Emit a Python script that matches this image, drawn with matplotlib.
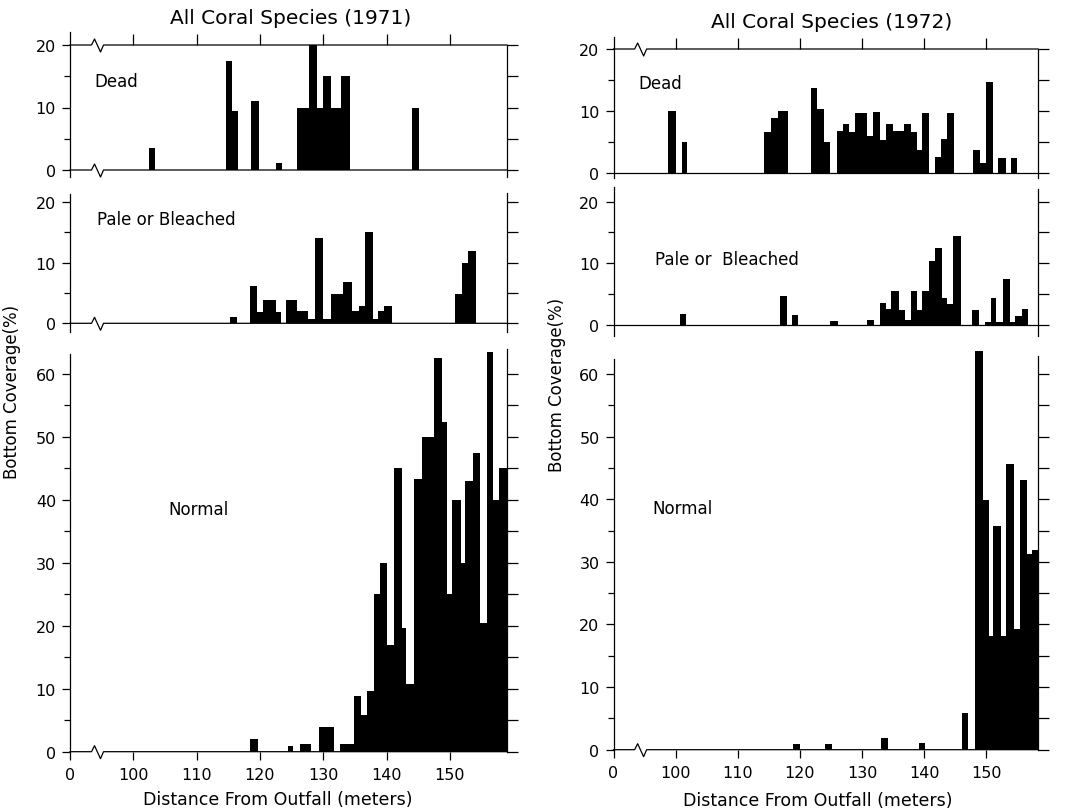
import numpy as np
import matplotlib.pyplot as plt
from matplotlib.markers import TICKRIGHT, TICKUP

plt.rcParams['font.family'] = ['DejaVu Sans']

# bars: (from m, to m, bottom coverage %)
dead_1971 = [
    (102.5, 103.4, 3.5), (114.7, 115.6, 17.5), (115.6, 116.6, 9.5),
    (118.6, 119.8, 11.0), (122.5, 123.5, 1.2), (125.8, 127.8, 10.0),
    (127.8, 129.0, 20.0), (129.0, 130.0, 10.0), (130.0, 131.3, 15.0),
    (131.3, 132.8, 10.0), (132.8, 134.2, 15.0), (144.0, 145.2, 10.0),
]
pale_1971 = [
    (115.2, 116.4, 1.0), (118.4, 119.6, 6.2), (119.6, 120.5, 1.9),
    (120.5, 122.5, 3.8), (122.5, 123.4, 1.9), (124.2, 125.8, 3.8),
    (125.8, 127.6, 2.0), (127.6, 128.7, 0.7), (128.7, 130.0, 14.0),
    (130.0, 131.2, 0.7), (131.2, 133.2, 4.8), (133.2, 134.5, 6.8),
    (134.5, 135.6, 2.0), (135.6, 136.6, 2.9), (136.6, 137.8, 15.0),
    (137.8, 138.7, 0.7), (138.7, 139.6, 2.0), (139.6, 140.8, 2.9),
    (150.8, 151.9, 4.8), (151.9, 152.9, 9.9), (152.9, 154.2, 11.9),
]
normal_1971 = [
    (118.5, 119.7, 2.0), (124.4, 125.3, 0.9), (126.3, 128.0, 1.3),
    (129.4, 131.7, 4.0), (132.7, 134.8, 1.2), (134.8, 135.9, 8.8),
    (135.9, 136.9, 5.8), (136.9, 138.0, 9.6), (138.0, 139.0, 25.0),
    (139.0, 140.0, 30.0), (140.0, 141.2, 17.0), (141.2, 142.4, 45.0),
    (142.4, 143.1, 19.7), (143.1, 144.3, 10.7), (144.3, 145.6, 43.3),
    (145.6, 147.5, 50.0), (147.5, 148.7, 62.5), (148.7, 149.6, 52.3),
    (149.6, 150.4, 25.0), (150.4, 151.7, 40.0), (151.7, 152.4, 30.0),
    (152.4, 153.6, 43.0), (153.6, 154.8, 47.5), (154.8, 155.8, 20.5),
    (155.8, 156.9, 63.5), (156.9, 157.7, 40.0), (157.7, 159.0, 45.0),
]
dead_1972 = [
    (98.8, 100.0, 9.9), (101.0, 101.75, 5.0), (114.2, 115.4, 6.6),
    (115.4, 116.5, 8.8), (116.5, 118.1, 9.9), (121.7, 122.8, 13.7),
    (122.8, 123.8, 10.3), (123.8, 124.9, 4.9), (125.9, 126.9, 6.7),
    (126.9, 127.9, 7.9), (127.9, 128.9, 6.6), (128.9, 130.8, 9.6),
    (130.8, 131.7, 5.9), (131.7, 132.9, 9.8), (132.9, 133.9, 5.3),
    (133.9, 134.9, 7.8), (134.9, 136.7, 6.7), (136.7, 137.9, 7.8),
    (137.9, 138.9, 6.6), (138.9, 139.7, 3.6), (139.7, 140.8, 9.6),
    (141.7, 142.7, 2.6), (142.7, 143.6, 5.4), (143.6, 144.8, 9.6),
    (147.8, 148.9, 3.6), (148.9, 149.9, 1.6), (149.9, 151.0, 14.6),
    (151.9, 153.1, 2.4), (153.9, 155.0, 2.4),
]
pale_1972 = [
    (100.7, 101.7, 1.7), (116.8, 117.9, 4.7), (118.7, 119.7, 1.6),
    (124.8, 126.1, 0.6), (130.8, 131.9, 0.7), (132.8, 133.9, 3.5),
    (133.9, 134.7, 2.6), (134.7, 136.0, 5.5), (136.0, 136.9, 2.4),
    (136.9, 137.8, 0.8), (137.8, 138.9, 5.5), (138.9, 139.7, 2.4),
    (139.7, 140.8, 5.4), (140.8, 141.7, 10.4), (141.7, 142.8, 12.5),
    (142.8, 143.7, 4.3), (143.7, 144.7, 3.4), (144.7, 145.9, 14.4),
    (147.7, 148.8, 2.4), (149.7, 150.7, 0.4), (150.7, 151.6, 4.4),
    (151.6, 152.7, 0.5), (152.7, 153.8, 7.5), (153.8, 154.6, 0.5),
    (154.6, 155.7, 1.4), (155.7, 156.7, 2.5),
]
normal_1972 = [
    (118.9, 120.0, 0.9), (124.0, 125.1, 0.9), (133.1, 134.1, 1.8),
    (139.2, 140.2, 1.0), (146.0, 147.1, 5.8), (148.2, 149.4, 63.6),
    (149.4, 150.4, 39.8), (150.4, 151.1, 18.2), (151.1, 152.4, 35.8),
    (152.4, 153.1, 18.1), (153.1, 154.4, 45.7), (154.4, 155.4, 19.2),
    (155.4, 156.5, 43.0), (156.5, 157.3, 31.2), (157.3, 158.3, 31.9),
]

# axis is broken after 0: the "0" tick sits 10 m left of 100
x_ticks = [90, 100, 110, 120, 130, 140, 150]
x_tick_labels = ['0', '100', '110', '120', '130', '140', '150']

W, H = 1065, 812
LW = 0.9
fig = plt.figure(figsize=(W / 100, H / 100), dpi=100)


def add_axes_px(x0, x1, y_top, y_bot):
    return fig.add_axes([x0 / W, 1 - y_bot / H, (x1 - x0) / W, (y_bot - y_top) / H])


def broken_hline(ax, y, x_start, x_end, ppm, ppu, brk=None):
    # straight line, or with a small zigzag "axis break" starting at brk
    if brk is None:
        xs, ys = [x_start, x_end], [y, y]
    else:
        zx = brk + np.array([0, 3, 9, 12]) / ppm
        zy = y + np.array([0, 6, -7, 0]) / ppu
        xs = np.concatenate([[x_start], zx, [x_end]])
        ys = np.concatenate([[y], zy, [y]])
    ax.plot(xs, ys, color='k', lw=LW, clip_on=False, zorder=3)


def panel(col, bars, zero_px, ppu, ylim, left_span, right_span, ymax_tick,
          label, label_px, top_line=False, base_break=False, xaxis=False):
    x0, ppm, xmax = col
    x1 = x0 + (xmax - 90) * ppm
    ax = add_axes_px(x0, x1, zero_px - ylim[1] * ppu, zero_px - ylim[0] * ppu)
    ax.set_xlim(90, xmax)
    ax.set_ylim(*ylim)
    ax.patch.set_alpha(0)

    lo = [b[0] for b in bars]
    wd = [b[1] - b[0] for b in bars]
    hh = [b[2] for b in bars]
    ax.bar(lo, hh, width=wd, align='edge', color='black', linewidth=0)

    for s in ('top', 'bottom'):
        ax.spines[s].set_visible(False)
    ax.spines['left'].set_bounds(*left_span)
    ax.spines['right'].set_bounds(*right_span)
    for s in ('left', 'right'):
        ax.spines[s].set_linewidth(LW)

    ax.set_yticks(np.arange(0, ymax_tick + 1, 10))
    ax.set_yticks(np.arange(5, ymax_tick, 10), minor=True)
    ax.tick_params(axis='y', which='both', direction='out', left=True, right=False,
                   width=LW, labelsize=11.5, pad=4)
    ax.tick_params(axis='y', which='major', length=6)
    ax.tick_params(axis='y', which='minor', length=4)

    ry = np.arange(0, right_span[1] + 0.01, 5)
    ax.plot([xmax] * len(ry), ry, ls='none', marker=TICKRIGHT, ms=8, mew=LW,
            color='k', clip_on=False)

    broken_hline(ax, 0, 90, xmax, ppm, ppu, 93.4 if base_break else None)

    if top_line:
        broken_hline(ax, 20, 90, xmax, ppm, ppu, 93.4)
        tx = x_ticks[1:]
        ax.plot(tx, [20] * len(tx), ls='none', marker=TICKUP, ms=8, mew=LW,
                color='k', clip_on=False)

    if xaxis:
        ax.set_xticks(x_ticks, x_tick_labels)
        ax.tick_params(axis='x', direction='out', length=6, width=LW,
                       labelsize=11.5, pad=5)
    else:
        ax.tick_params(axis='x', bottom=False, labelbottom=False)

    fig.text(label_px[0] / W, 1 - label_px[1] / H, label, fontsize=12,
             ha='center', va='center')
    return ax


left_col = (70, 6.33, 159.0)
right_col = (613.5, 6.215, 158.3)

# 1971
panel(left_col, dead_1971, 171.0, 6.25, (-1.1, 22.1), (-1.1, 22.1), (-1.1, 20), 20,
      'Dead', (116, 82), top_line=True, base_break=True)
panel(left_col, pale_1971, 324.3, 6.08, (-1.5, 21.5), (-1.4, 21.3), (-1.5, 21.5), 20,
      'Pale or Bleached', (166, 220), base_break=True)
panel(left_col, normal_1971, 752.7, 6.295, (0, 64), (0, 63.2), (0, 64), 60,
      'Normal', (198, 510), base_break=True, xaxis=True)

# 1972
panel(right_col, dead_1972, 173.7, 6.185, (-0.8, 22.0), (-0.8, 22.0), (-0.8, 20), 20,
      'Dead', (660, 84), top_line=True)
panel(right_col, pale_1972, 325.7, 6.15, (-1.9, 22.4), (-1.9, 22.4), (-1.8, 22.0), 20,
      'Pale or  Bleached', (727, 260))
panel(right_col, normal_1972, 750.7, 6.262, (0, 64), (0, 62.4), (0, 62.8), 60,
      'Normal', (683, 509), base_break=True, xaxis=True)

fig.text(291 / W, 1 - 18 / H, 'All Coral Species (1971)', fontsize=14.5,
         ha='center', va='center')
fig.text(832 / W, 1 - 23 / H, 'All Coral Species (1972)', fontsize=14.5,
         ha='center', va='center')
fig.text(278 / W, 1 - 800 / H, 'Distance From Outfall (meters)', fontsize=12.5,
         ha='center', va='center')
fig.text(818 / W, 1 - 801 / H, 'Distance From Outfall (meters)', fontsize=12.5,
         ha='center', va='center')
fig.text(12 / W, 1 - 392 / H, 'Bottom Coverage(%)', fontsize=12,
         rotation=90, ha='center', va='center')
fig.text(557 / W, 1 - 385 / H, 'Bottom Coverage(%)', fontsize=12,
         rotation=90, ha='center', va='center')

fig.savefig('out.png', dpi=100)
